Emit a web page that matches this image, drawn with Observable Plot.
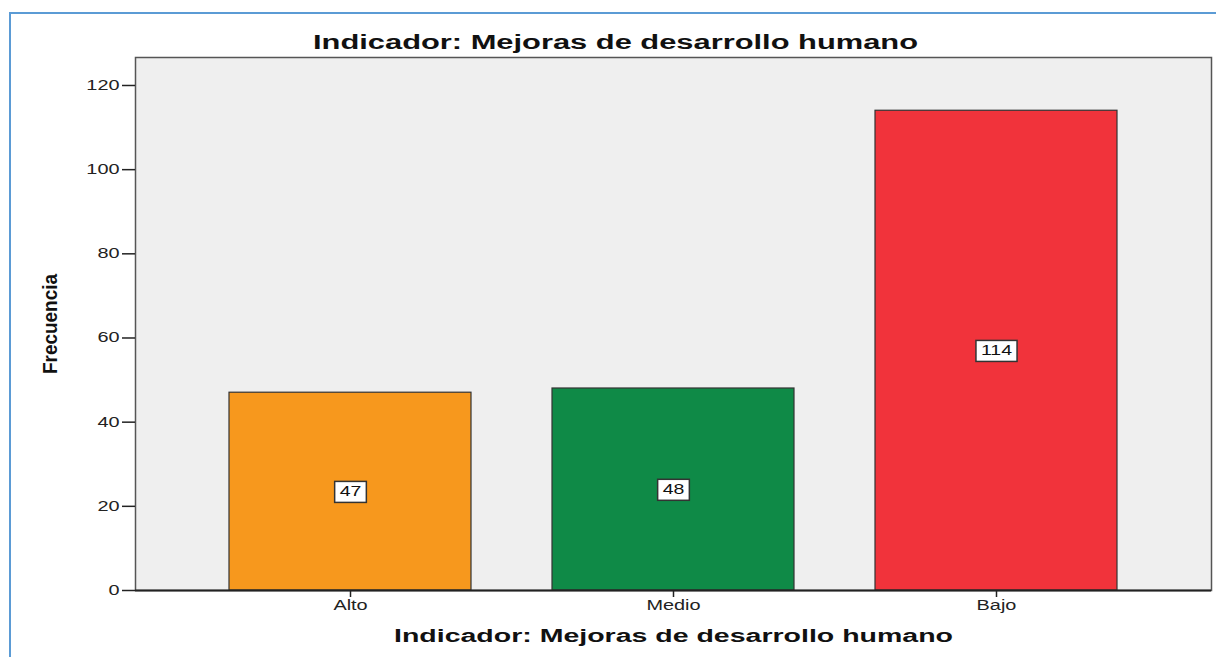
<!DOCTYPE html>
<html><head><meta charset="utf-8">
<script src="https://cdn.jsdelivr.net/npm/d3@7"></script>
<script src="https://cdn.jsdelivr.net/npm/@observablehq/plot@0.6"></script>
<style>
body{margin:0;background:#fff;width:1216px;height:657px;overflow:hidden;position:relative;font-family:"Liberation Sans",Arial,sans-serif}
#frame{position:absolute;left:9px;top:12px;width:1300px;height:700px;border-left:2px solid #5b9bd5;border-top:2px solid #5b9bd5;}
#chart{position:absolute;top:0;left:0}
</style></head><body>
<div id="frame"></div>
<div id="chart"></div>
<script>
const categories = ["Alto", "Medio", "Bajo"];
const counts = [47, 48, 114];
const colors = ["#f7981d", "#0f8a47", "#f1333b"];
const yTicks = [0, 20, 40, 60, 80, 100, 120];
const title = "Indicador: Mejoras de desarrollo humano";
const yLabel = "Frecuencia";
const xLabel = "Indicador: Mejoras de desarrollo humano";

const data = categories.map((c, i) => ({cat: c, n: counts[i]}));
const font = "Liberation Sans, Arial, sans-serif";

const plot = Plot.plot({
  width: 1216, height: 657,
  marginTop: 57, marginBottom: 67, marginLeft: 135, marginRight: 5,
  style: {background: "transparent", fontFamily: font, fontSize: "14px", color: "#222"},
  x: {domain: categories, paddingInner: 0.25, paddingOuter: 0.29, label: null},
  y: {domain: [0, 126.65], label: null},
  color: {domain: categories, range: colors},
  marks: [
    Plot.frame({fill: "#efefef", stroke: "#555", strokeWidth: 1.5}),
    Plot.barY(data, {x: "cat", y: "n", fill: "cat", stroke: "#333", strokeWidth: 1.2}),
    Plot.axisY({ticks: yTicks, tickSize: 13, tickPadding: 3, label: null, stroke: "#222", strokeWidth: 1.5, fontSize: 14, className: "stretch"}),
    Plot.axisX({tickSize: 7, tickPadding: 3, label: null, stroke: "#222", strokeWidth: 1.5, fontSize: 14, className: "stretch"}),
    Plot.ruleY([0], {stroke: "#222", strokeWidth: 2}),
    Plot.ruleX([0], {frameAnchor: "left", stroke: "#222", strokeWidth: 2}),
    Plot.text(data, {x: "cat", y: d => d.n / 2, text: d => String(d.n), fontSize: 15, fill: "#111", className: "barlab"}),
    Plot.text([yLabel], {frameAnchor: "left", dx: -85, rotate: -90, textAnchor: "middle", lineAnchor: "middle", fontSize: 20, fontWeight: "bold", fill: "#111", className: "ylab"}),
    Plot.text([xLabel], {frameAnchor: "bottom", dy: 46, textAnchor: "middle", lineAnchor: "middle", fontSize: 18, fontWeight: "bold", fill: "#111", className: "xlab"}),
    Plot.text([title], {frameAnchor: "top", dy: -15, dx: -58, textAnchor: "middle", lineAnchor: "middle", fontSize: 20, fontWeight: "bold", fill: "#111", className: "ttl"})
  ]
});
document.getElementById("chart").appendChild(plot);

// horizontal stretch like the original export
function stretch(sel, k, fixed) {
  plot.querySelectorAll(sel).forEach(t => {
    const w = fixed || t.getComputedTextLength() * k;
    t.setAttribute("textLength", w);
    t.setAttribute("lengthAdjust", "spacingAndGlyphs");
  });
}
stretch("g.stretch text", 1.42);
stretch("g.barlab text", 1.3);
stretch("g.ylab text", 1, 100);
stretch("g.xlab text", 1, 559);
stretch("g.ttl text", 1, 605);

// white boxes behind the bar labels
plot.querySelectorAll("g.barlab text").forEach(t => {
  const bb = t.getBBox();
  const r = document.createElementNS("http://www.w3.org/2000/svg", "rect");
  r.setAttribute("x", bb.x - 5);
  r.setAttribute("y", bb.y - 1);
  r.setAttribute("width", bb.width + 10);
  r.setAttribute("height", bb.height + 4);
  r.setAttribute("fill", "#fff");
  r.setAttribute("stroke", "#333");
  r.setAttribute("stroke-width", "1.5");
  const tr = t.getAttribute("transform");
  if (tr) r.setAttribute("transform", tr);
  t.parentNode.insertBefore(r, t);
});
</script>
</body></html>
